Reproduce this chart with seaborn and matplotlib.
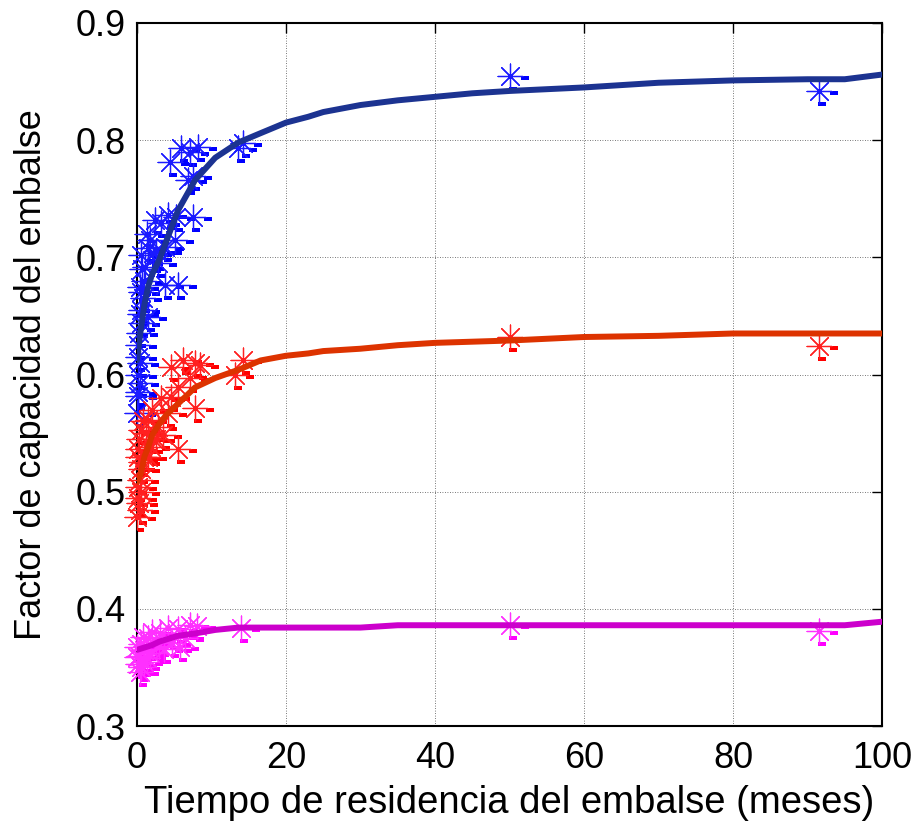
import numpy as np
import pandas as pd
import matplotlib
matplotlib.use("Agg")
import matplotlib.pyplot as plt
import matplotlib.transforms as mtransforms
from matplotlib.path import Path
import seaborn as sns

# ---- data ----
blue_x = [50, 91.5, 14.2, 13.6, 5.9, 7.1, 8.2, 4.4, 7.5, 6.8, 2.4, 4.2, 5.2, 7.5, 3.2,
          5.1, 1.5, 0.5, 2.1, 3.8, 1.1, 2.8, 0.4, 5.5, 3.8, 0.5, 0.4, 1.5, 0.5, 0.1,
          0.4, 0.4, 0.0, 0.2, 0.1, 0.2, 0.3, 0.6, 0.8, 0.2, 1.0, 0.7, 1.8, 2.5, 1.3]
blue_y = [0.855, 0.842, 0.798, 0.793, 0.793, 0.790, 0.794, 0.781, 0.769, 0.766, 0.732, 0.736,
          0.734, 0.734, 0.729, 0.715, 0.708, 0.702, 0.704, 0.709, 0.692, 0.695, 0.675, 0.676,
          0.676, 0.670, 0.652, 0.649, 0.644, 0.625, 0.610, 0.593, 0.567, 0.582, 0.600, 0.615,
          0.635, 0.655, 0.665, 0.585, 0.680, 0.690, 0.715, 0.705, 0.720]

red_x = [50, 91.5, 4.6, 6.2, 7.8, 8.5, 7.1, 14.2, 13.2, 3.2, 4.6, 5.5, 7.8, 4.2, 1.5,
         5.5, 0.5, 2.8, 1.9, 0.1, 0.5, 0.1, 0.1, 0.4, 0.0, 3.5, 2.2, 1.0, 0.2, 0.3,
         0.6, 0.8, 1.2, 0.4, 2.0, 0.3, 0.6, 1.5, 2.5]
red_y = [0.632, 0.624, 0.606, 0.612, 0.610, 0.608, 0.597, 0.612, 0.600, 0.580, 0.581, 0.589,
         0.571, 0.567, 0.561, 0.536, 0.553, 0.555, 0.538, 0.536, 0.519, 0.504, 0.495, 0.484,
         0.478, 0.548, 0.545, 0.530, 0.530, 0.545, 0.525, 0.560, 0.550, 0.510, 0.570, 0.490,
         0.500, 0.530, 0.545]

mag_x = [50, 91.5, 14.0, 7.1, 8.0, 4.2, 5.5, 3.1, 0.8, 0.0, 0.0, 0.4, 0.2, 4.7, 5.8,
         1.7, 2.5, 1.2, 6.5, 3.6, 0.3, 0.6, 1.0, 1.5, 0.9, 2.0, 0.5, 3.0, 1.3]
mag_y = [0.386, 0.381, 0.384, 0.386, 0.385, 0.384, 0.383, 0.379, 0.376, 0.367, 0.359, 0.346,
         0.353, 0.371, 0.367, 0.362, 0.372, 0.368, 0.375, 0.366, 0.360, 0.370, 0.365, 0.375,
         0.355, 0.380, 0.350, 0.368, 0.358]

fit_x = [0, 0.5, 1, 1.5, 2, 3, 4, 5.5, 7.8, 10.5, 13.6, 16.6, 20, 23, 25, 30, 35, 40, 45,
         50, 60, 70, 80, 90, 95, 100]
blue_fit = [0.612, 0.638, 0.660, 0.675, 0.685, 0.698, 0.715, 0.740, 0.766, 0.785, 0.798,
            0.806, 0.815, 0.820, 0.824, 0.830, 0.834, 0.837, 0.840, 0.842, 0.845, 0.849,
            0.851, 0.852, 0.852, 0.856]
red_fit = [0.508, 0.515, 0.530, 0.538, 0.548, 0.558, 0.566, 0.575, 0.589, 0.597, 0.604,
           0.612, 0.616, 0.618, 0.620, 0.622, 0.625, 0.627, 0.628, 0.629, 0.632, 0.633,
           0.635, 0.635, 0.635, 0.635]
mag_fit = [0.365, 0.366, 0.367, 0.368, 0.369, 0.372, 0.374, 0.377, 0.379, 0.382, 0.384,
           0.384, 0.384, 0.384, 0.384, 0.384, 0.386, 0.386, 0.386, 0.386, 0.386, 0.386,
           0.386, 0.386, 0.386, 0.389]

xticks = [0, 20, 40, 60, 80, 100]
yticks = [0.3, 0.4, 0.5, 0.6, 0.7, 0.8, 0.9]
xlabel = "Tiempo de residencia del embalse (meses)"
ylabel = "Factor de capacidad del embalse"

# ---- style ----
sns.set_style("white")
plt.rcParams['font.family'] = ['Liberation Sans', 'DejaVu Sans']
plt.rcParams['text.color'] = 'black'
plt.rcParams['axes.labelcolor'] = 'black'

fig = plt.figure(figsize=(9.19, 8.24), dpi=100)
ax = fig.add_axes([137/919, 1-726/824, (882-137)/919, (726-23)/824])

asterisk = (8, 2, 0)
dash = Path([(-1, -0.45), (1, -0.45), (1, 0.45), (-1, 0.45), (-1, -0.45)])
off1 = ax.transData + mtransforms.ScaledTranslation(15/100, -2/100, fig.dpi_scale_trans)
off2 = ax.transData + mtransforms.ScaledTranslation(3/100, -13/100, fig.dpi_scale_trans)

series = [
    (blue_x, blue_y, blue_fit, "#1a1aff", "#0000ff", "#1c3391"),
    (red_x, red_y, red_fit, "#ff2020", "#ff0000", "#dd3300"),
    (mag_x, mag_y, mag_fit, "#ff30ff", "#ff00ff", "#cc00cc"),
]
for sx, sy, fy, mc, dc, lc in series:
    sns.scatterplot(x=sx, y=sy, ax=ax, marker=dash, s=28, color=dc, linewidth=0,
                    transform=off1, zorder=2, clip_on=False)
    sns.scatterplot(x=sx, y=sy, ax=ax, marker=dash, s=28, color=dc, linewidth=0,
                    transform=off2, zorder=2, clip_on=False)
    sns.scatterplot(x=sx, y=sy, ax=ax, marker=asterisk, s=320, color=mc,
                    linewidth=0.9, zorder=3, clip_on=False)
    sns.lineplot(x=fit_x, y=fy, ax=ax, color=lc, linewidth=4.3, zorder=4)

ax.set_xlim(0, 100)
ax.set_ylim(0.3, 0.9)
ax.set_xticks(xticks)
ax.set_yticks(yticks)
ax.set_xticklabels([str(t) for t in xticks])
ax.set_yticklabels([f"{t:.1f}" for t in yticks])
ax.tick_params(axis='both', direction='in', length=7, width=1, top=True, right=True,
               labelsize=26, colors='black')
ax.tick_params(axis='x', pad=11)
ax.tick_params(axis='y', pad=8)
ax.grid(True, color='black', linestyle=(0, (1, 2)), linewidth=0.6, alpha=0.7)
for s in ax.spines.values():
    s.set_color('black')
    s.set_linewidth(1.5)
ax.set_xlabel(xlabel, fontsize=27.5, labelpad=6)
ax.set_ylabel(ylabel, fontsize=26, labelpad=19)

fig.savefig("out.png", dpi=100)
